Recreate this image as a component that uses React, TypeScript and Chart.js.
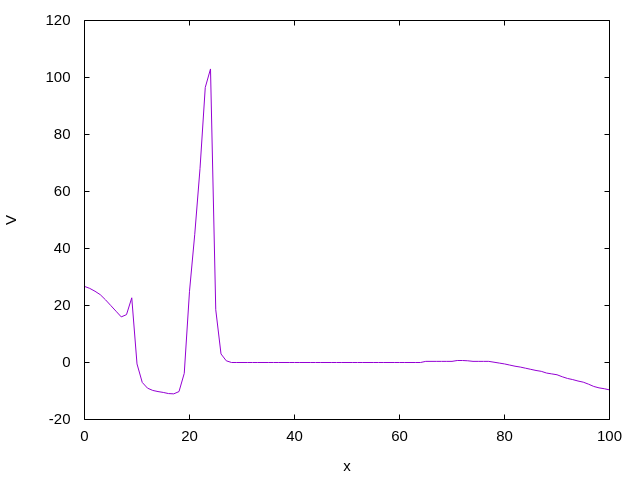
import React, { useEffect, useRef } from "react";
import { Chart, registerables } from "chart.js";

Chart.register(...registerables);

const xValues: number[] = Array.from({ length: 101 }, (_, i) => i);
const vValues: number[] = [
  26.7, 26.0, 25.0, 23.8, 22.0, 20.0, 18.0, 16.0, 16.8, 22.7,
  -0.5, -7.0, -9.0, -9.8, -10.2, -10.5, -10.9, -11.0, -10.2, -3.8,
  25.0, 45.0, 68.0, 96.5, 103.0, 18.5, 3.0, 0.6, 0.0, 0.0,
  0.0, 0.0, 0.0, 0.0, 0.0, 0.0, 0.0, 0.0, 0.0, 0.0,
  0.0, 0.0, 0.0, 0.0, 0.0, 0.0, 0.0, 0.0, 0.0, 0.0,
  0.0, 0.0, 0.0, 0.0, 0.0, 0.0, 0.0, 0.0, 0.0, 0.0,
  0.0, 0.0, 0.0, 0.0, 0.0, 0.4, 0.4, 0.4, 0.4, 0.4,
  0.4, 0.7, 0.7, 0.6, 0.4, 0.4, 0.4, 0.4, 0.1, -0.2,
  -0.5, -0.9, -1.3, -1.6, -2.0, -2.4, -2.8, -3.1, -3.7, -4.0,
  -4.3, -5.0, -5.6, -6.0, -6.5, -6.9, -7.6, -8.4, -8.9, -9.2,
  -9.6,
];

const xTitle = "x";
const yTitle = "V";
const xMin = 0, xMax = 100, xStep = 20;
const yMin = -20, yMax = 120, yStep = 20;

const lineColor = "#9400D3";
const fontFamily = "'Liberation Sans', Arial, sans-serif";

const frameTicks = {
  id: "frameTicks",
  afterDatasetsDraw(chart: any) {
    const { ctx, chartArea } = chart;
    const { left, right, top, bottom } = chartArea;
    const xs = chart.scales.x;
    const ys = chart.scales.y;
    const len = 5;
    ctx.save();
    ctx.strokeStyle = "#000";
    ctx.lineWidth = 1;
    ctx.beginPath();
    ctx.rect(left, top, right - left, bottom - top);
    ctx.stroke();
    ctx.beginPath();
    xs.ticks.forEach((t: any) => {
      const px = Math.round(xs.getPixelForValue(t.value) - 0.5) + 0.5;
      ctx.moveTo(px, bottom);
      ctx.lineTo(px, bottom - len);
      ctx.moveTo(px, top);
      ctx.lineTo(px, top + len);
    });
    ys.ticks.forEach((t: any) => {
      const py = Math.round(ys.getPixelForValue(t.value) - 0.5) + 0.5;
      ctx.moveTo(left, py);
      ctx.lineTo(left + len, py);
      ctx.moveTo(right, py);
      ctx.lineTo(right - len, py);
    });
    ctx.stroke();
    ctx.restore();
  },
};

export default function App() {
  const canvasRef = useRef<HTMLCanvasElement | null>(null);

  useEffect(() => {
    if (!canvasRef.current) return;
    const chart = new Chart(canvasRef.current, {
      type: "line",
      data: {
        datasets: [
          {
            data: xValues.map((x, i) => ({ x, y: vValues[i] })),
            borderColor: lineColor,
            borderWidth: 1,
            pointRadius: 0,
            tension: 0,
            fill: false,
          },
        ],
      },
      options: {
        animation: false,
        responsive: false,
        devicePixelRatio: 1,
        layout: { autoPadding: false, padding: { left: 0, right: 30.5, top: 20.5, bottom: 0 } },
        plugins: {
          legend: { display: false },
          tooltip: { enabled: false },
        },
        scales: {
          x: {
            type: "linear",
            min: xMin,
            max: xMax,
            grid: { display: false, drawTicks: false },
            border: { display: false },
            ticks: {
              stepSize: xStep,
              color: "#000",
              padding: 8,
              maxRotation: 0,
              font: { family: fontFamily, size: 15 },
            },
            title: {
              display: true,
              text: xTitle,
              color: "#000",
              padding: { top: 0, bottom: 4.5 },
              font: { family: fontFamily, size: 15 },
            },
            afterFit: (scale: any) => {
              scale.height = 60.5;
              scale.paddingLeft = 0;
              scale.paddingRight = 0;
            },
          },
          y: {
            type: "linear",
            min: yMin,
            max: yMax,
            grid: { display: false, drawTicks: false },
            border: { display: false },
            ticks: {
              stepSize: yStep,
              color: "#000",
              padding: 14,
              font: { family: fontFamily, size: 15 },
            },
            title: {
              display: true,
              text: yTitle,
              color: "#000",
              padding: { top: 3, bottom: 0 },
              font: { family: fontFamily, size: 15 },
            },
            afterFit: (scale: any) => {
              scale.width = 84.5;
              scale.paddingTop = 0;
              scale.paddingBottom = 0;
            },
          },
        },
      },
      plugins: [frameTicks],
    });
    return () => chart.destroy();
  }, []);

  return (
    <div style={{ position: "absolute", left: 0, top: 0, width: 640, height: 480, background: "#fff" }}>
      <canvas ref={canvasRef} width={640} height={480} />
    </div>
  );
}
